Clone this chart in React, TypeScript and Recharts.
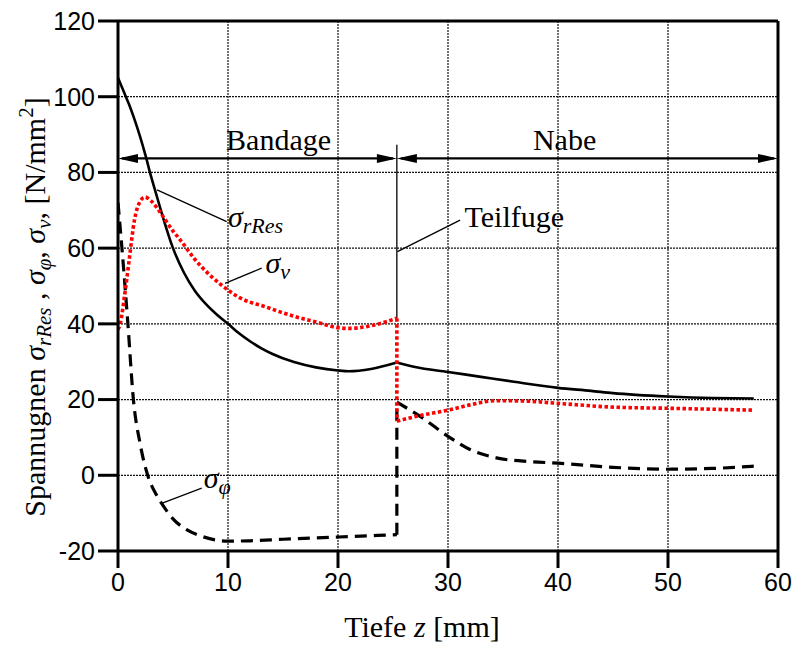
import React from 'react';
import { LineChart, Line, XAxis, YAxis, CartesianGrid, ReferenceLine, ReferenceDot } from 'recharts';

// sigma_rRes (solid black)
const resLeft = [
  { x: 0, y: 105 }, { x: 0.5, y: 101.5 }, { x: 1, y: 98 }, { x: 1.5, y: 94 }, { x: 2, y: 89.5 },
  { x: 2.5, y: 84.5 }, { x: 3, y: 79 }, { x: 3.5, y: 74 }, { x: 4, y: 69 }, { x: 5, y: 60 },
  { x: 6, y: 53.5 }, { x: 7, y: 48.7 }, { x: 8, y: 45.2 }, { x: 9, y: 42.4 },
  { x: 10, y: 40 }, { x: 11, y: 37.5 }, { x: 12, y: 35.4 }, { x: 13, y: 33.6 }, { x: 14, y: 32.1 },
  { x: 16, y: 29.9 }, { x: 18, y: 28.5 }, { x: 20, y: 27.7 }, { x: 21, y: 27.5 }, { x: 23, y: 28.1 },
  { x: 25.35, y: 29.8 },
];
const resRight = [
  { x: 25.35, y: 29.8 }, { x: 27, y: 28.6 }, { x: 30, y: 27.3 }, { x: 33, y: 26 }, { x: 36, y: 24.7 },
  { x: 40, y: 23.1 }, { x: 43, y: 22.3 }, { x: 45, y: 21.7 }, { x: 50, y: 20.8 }, { x: 54, y: 20.4 },
  { x: 57.8, y: 20.3 },
];

// sigma_v (red dotted)
const vLeft = [
  { x: 0, y: 38.5 }, { x: 0.2, y: 40 }, { x: 0.6, y: 47.5 }, { x: 1, y: 56.5 }, { x: 1.5, y: 67.5 },
  { x: 2, y: 72.3 }, { x: 2.45, y: 73.5 }, { x: 3, y: 72.5 }, { x: 3.8, y: 69.6 }, { x: 5, y: 64.5 },
  { x: 5.6, y: 62.4 }, { x: 7, y: 57 }, { x: 9.3, y: 50.5 }, { x: 11, y: 47 }, { x: 13.5, y: 44.4 },
  { x: 16, y: 42 }, { x: 18, y: 40.5 }, { x: 20, y: 39 }, { x: 21, y: 38.8 }, { x: 23, y: 39.5 },
  { x: 25.35, y: 41.5 },
];
const vJump = [{ x: 25.35, y: 41.5 }, { x: 25.35, y: 14.3 }];
const vRight = [
  { x: 25.35, y: 14.3 }, { x: 27.5, y: 15.8 }, { x: 30, y: 17.2 }, { x: 32, y: 18.6 }, { x: 34.4, y: 19.7 },
  { x: 37, y: 19.6 }, { x: 40, y: 19 }, { x: 45, y: 18 }, { x: 50, y: 17.7 }, { x: 57.8, y: 17.2 },
];

// sigma_phi (dashed black)
const phiLeft = [
  { x: 0, y: 72 }, { x: 0.5, y: 55 }, { x: 0.9, y: 40 }, { x: 1.4, y: 20 }, { x: 2, y: 8.5 },
  { x: 2.7, y: 0 }, { x: 3.5, y: -5.2 }, { x: 4.1, y: -8 }, { x: 5, y: -11.5 }, { x: 6.2, y: -14.3 },
  { x: 7.5, y: -16 }, { x: 8.7, y: -17 }, { x: 10, y: -17.4 }, { x: 12, y: -17.3 }, { x: 15, y: -16.9 },
  { x: 20, y: -16.3 }, { x: 25.35, y: -15.7 },
];
const phiJump = [{ x: 25.35, y: -15.7 }, { x: 25.35, y: 19.3 }];
const phiRight = [
  { x: 25.35, y: 19.3 }, { x: 27.5, y: 15.5 }, { x: 30, y: 10.3 }, { x: 32, y: 6.8 }, { x: 34.4, y: 4.6 },
  { x: 37.5, y: 3.6 }, { x: 40, y: 3.2 }, { x: 45, y: 2.1 }, { x: 50, y: 1.6 }, { x: 54, y: 1.8 },
  { x: 57.8, y: 2.4 },
];

const xTicks = [0, 10, 20, 30, 40, 50, 60];
const yTicks = [-20, 0, 20, 40, 60, 80, 100, 120];

// annotations (data units)
const arrows = [
  { x1: 0, x2: 25.35, y: 83.7 },
  { x1: 25.35, x2: 60, y: 83.7 },
];
const leaders = [
  { x1: 3.55, y1: 75.4, x2: 9.88, y2: 67 },
  { x1: 9.73, y1: 50.7, x2: 13.06, y2: 54.7 },
  { x1: 3.97, y1: -7.4, x2: 7.61, y2: -3.4 },
  { x1: 25.4, y1: 59.1, x2: 31.1, y2: 67.4 },
  { x1: 25.35, y1: 41.5, x2: 25.35, y2: 87.3 },
];
const plainLabels = [
  { x: 14.6, y: 86, text: 'Bandage', anchor: 'middle' },
  { x: 40.6, y: 86, text: 'Nabe', anchor: 'middle' },
  { x: 31.5, y: 65.6, text: 'Teilfuge', anchor: 'start' },
];
const sigmaLabels = [
  { x: 10.0, y: 65.6, sub: 'rRes' },
  { x: 13.4, y: 53.4, sub: 'v' },
  { x: 7.8, y: -3.35, sub: 'φ' },
];

const SERIF = 'Liberation Serif, Times New Roman, Tinos, DejaVu Serif, serif';
const SANS = 'Liberation Sans, Arial, Arimo, sans-serif';
const serifStyle = { fontFamily: SERIF };
const sansStyle = { fontFamily: SANS };

const ArrowShape = (props: any) => {
  const { x1, y1, x2, y2 } = props;
  const L = 20;
  const H = 4.5;
  return (
    <g>
      <line x1={x1 + 4} y1={y1} x2={x2 - 4} y2={y2} stroke="#000" strokeWidth={2.2} />
      <polygon points={`${x1},${y1} ${x1 + L},${y1 - H} ${x1 + L},${y1 + H}`} fill="#000" />
      <polygon points={`${x2},${y2} ${x2 - L},${y2 - H} ${x2 - L},${y2 + H}`} fill="#000" />
    </g>
  );
};

const YTitle = (props: any) => {
  const vb = props.viewBox || { x: 0, y: 21, width: 118, height: 530 };
  const cx = vb.x + 45;
  const cy = vb.y + vb.height / 2 + 21;
  return (
    <text x={cx} y={cy} transform={`rotate(-90 ${cx} ${cy})`} textAnchor="middle" style={serifStyle} fontSize={30} fill="#000">
      <tspan>Spannugnen </tspan>
      <tspan fontStyle="italic">σ</tspan>
      <tspan fontStyle="italic" fontSize={21} dy={6}>rRes</tspan>
      <tspan dy={-6}> , </tspan>
      <tspan fontStyle="italic">σ</tspan>
      <tspan fontStyle="italic" fontSize={21} dy={6}>φ</tspan>
      <tspan dy={-6}>, </tspan>
      <tspan fontStyle="italic">σ</tspan>
      <tspan fontStyle="italic" fontSize={21} dy={6}>v</tspan>
      <tspan dy={-6}>, [N/mm</tspan>
      <tspan fontSize={21} dy={-12}>2</tspan>
      <tspan dy={12}>]</tspan>
    </text>
  );
};

const XTitle = (props: any) => {
  const vb = props.viewBox || { x: 118, y: 551, width: 660, height: 94 };
  const cx = vb.x + vb.width / 2 - 26;
  const cy = vb.y + 86;
  return (
    <text x={cx} y={cy} textAnchor="middle" style={serifStyle} fontSize={30} fill="#000">
      <tspan>Tiefe </tspan>
      <tspan fontStyle="italic">z</tspan>
      <tspan> [mm]</tspan>
    </text>
  );
};

export default function App() {
  return (
    <div style={{ position: 'absolute', left: 0, top: 0, background: '#fff' }}>
      <LineChart width={796} height={645} margin={{ top: 21, right: 18, bottom: 0, left: 0 }}>
        <CartesianGrid stroke="#111" strokeDasharray="2 1" strokeWidth={1.2} />
        <XAxis
          type="number"
          dataKey="x"
          domain={[0, 60]}
          ticks={xTicks}
          allowDataOverflow
          height={94}
          axisLine={{ stroke: '#000', strokeWidth: 3 }}
          tickLine={{ stroke: '#000', strokeWidth: 3 }}
          tickSize={17}
          tickMargin={5}
          tick={{ style: sansStyle, fontSize: 25, fill: '#000' }}
          label={<XTitle />}
        />
        <YAxis
          type="number"
          domain={[-20, 120]}
          ticks={yTicks}
          allowDataOverflow
          width={118}
          axisLine={{ stroke: '#000', strokeWidth: 3 }}
          tickLine={{ stroke: '#000', strokeWidth: 3 }}
          tickSize={20}
          tickMargin={3}
          tick={{ style: sansStyle, fontSize: 25, fill: '#000' }}
          label={<YTitle />}
        />
        <ReferenceLine y={120} stroke="#000" strokeWidth={3} />
        <ReferenceLine x={60} stroke="#000" strokeWidth={3} />
        {arrows.map((a, i) => (
          <ReferenceLine key={'ar' + i} segment={[{ x: a.x1, y: a.y }, { x: a.x2, y: a.y }]} shape={ArrowShape} />
        ))}
        {leaders.map((l, i) => (
          <ReferenceLine key={'ld' + i} segment={[{ x: l.x1, y: l.y1 }, { x: l.x2, y: l.y2 }]} stroke="#000" strokeWidth={1.3} />
        ))}
        {plainLabels.map((t, i) => (
          <ReferenceDot
            key={'pl' + i}
            x={t.x}
            y={t.y}
            r={1}
            shape={(p: any) => (
              <text x={p.cx} y={p.cy} textAnchor={t.anchor} style={serifStyle} fontSize={30} fill="#000">{t.text}</text>
            )}
          />
        ))}
        {sigmaLabels.map((t, i) => (
          <ReferenceDot
            key={'sl' + i}
            x={t.x}
            y={t.y}
            r={1}
            shape={(p: any) => (
              <text x={p.cx} y={p.cy} style={serifStyle} fontSize={30} fill="#000" fontStyle="italic">
                <tspan>σ</tspan>
                <tspan fontSize={22} dy={6}>{t.sub}</tspan>
              </text>
            )}
          />
        ))}
        <Line data={phiLeft} dataKey="y" type="monotone" stroke="#000" strokeWidth={3.2} strokeDasharray="12 7" dot={false} isAnimationActive={false} />
        <Line data={phiJump} dataKey="y" type="linear" stroke="#000" strokeWidth={3.2} strokeDasharray="12 7" dot={false} isAnimationActive={false} />
        <Line data={phiRight} dataKey="y" type="monotone" stroke="#000" strokeWidth={3.2} strokeDasharray="12 7" dot={false} isAnimationActive={false} />
        <Line data={resLeft} dataKey="y" type="monotone" stroke="#000" strokeWidth={2.6} dot={false} isAnimationActive={false} />
        <Line data={resRight} dataKey="y" type="monotone" stroke="#000" strokeWidth={2.6} dot={false} isAnimationActive={false} />
        <Line data={vLeft} dataKey="y" type="monotone" stroke="#ff0000" strokeWidth={3.6} strokeDasharray="3.5 2.5" dot={false} isAnimationActive={false} />
        <Line data={vJump} dataKey="y" type="linear" stroke="#ff0000" strokeWidth={3.6} strokeDasharray="3.5 2.5" dot={false} isAnimationActive={false} />
        <Line data={vRight} dataKey="y" type="monotone" stroke="#ff0000" strokeWidth={3.6} strokeDasharray="3.5 2.5" dot={false} isAnimationActive={false} />
      </LineChart>
    </div>
  );
}
